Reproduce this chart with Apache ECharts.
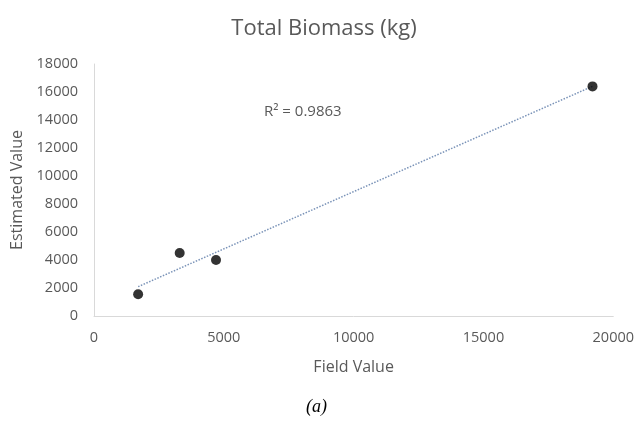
<!DOCTYPE html>
<html>
<head>
<meta charset="utf-8">
<script src="https://cdn.jsdelivr.net/npm/echarts@6/dist/echarts.min.js"></script>
<style>
  html, body { margin: 0; padding: 0; background: #fff; }
  #chart { width: 637px; height: 430px; }
</style>
</head>
<body>
<div id="chart"></div>
<script>
// field value vs estimated value
var fieldValues = [1700, 3300, 4700, 19200]
var estimatedValues = [1550, 4500, 4000, 16400]
var rSquared = '0.9863'

var points = fieldValues.map(function (x, i) {
  return [x, estimatedValues[i]]
})

// linear trendline (least squares), drawn across the data range
function linearFit(xs, ys) {
  var n = xs.length
  var mx = xs.reduce(function (a, b) { return a + b }, 0) / n
  var my = ys.reduce(function (a, b) { return a + b }, 0) / n
  var sxy = 0, sxx = 0
  for (var i = 0; i < n; i++) {
    sxy += (xs[i] - mx) * (ys[i] - my)
    sxx += (xs[i] - mx) * (xs[i] - mx)
  }
  var slope = sxy / sxx
  return { slope: slope, intercept: my - slope * mx }
}
var fit = linearFit(fieldValues, estimatedValues)
var xMin = Math.min.apply(null, fieldValues)
var xMax = Math.max.apply(null, fieldValues)
var trend = [
  [xMin, fit.slope * xMin + fit.intercept],
  [xMax, fit.slope * xMax + fit.intercept]
]

var myChart = echarts.init(document.getElementById('chart'))
var textColor = '#595959'
var fontFamily = 'Open Sans'
// plain numbers, no thousands separator
var plainNumber = function (v) { return String(v) }

var option = {
  backgroundColor: '#fff',
  animation: false,
  title: {
    text: 'Total Biomass (kg)',
    left: 319,
    top: 13,
    textAlign: 'center',
    textStyle: { color: textColor, fontSize: 22, fontWeight: 'normal', fontFamily: fontFamily }
  },
  grid: { left: 94, top: 64, width: 524, height: 252 },
  xAxis: {
    type: 'value',
    min: 0,
    max: 20000,
    interval: 5000,
    name: 'Field Value',
    nameLocation: 'middle',
    nameGap: 43,
    nameTextStyle: { color: textColor, fontSize: 16, fontFamily: fontFamily },
    axisLine: { show: true, lineStyle: { color: '#d9d9d9', width: 1 } },
    axisTick: { show: false },
    splitLine: { show: false },
    axisLabel: { color: textColor, fontSize: 14.5, fontFamily: fontFamily, margin: 14, formatter: plainNumber }
  },
  yAxis: {
    type: 'value',
    min: 0,
    max: 18000,
    interval: 2000,
    name: 'Estimated Value',
    nameLocation: 'middle',
    nameGap: 64,
    nameTextStyle: { color: textColor, fontSize: 16, fontFamily: fontFamily },
    axisLine: { show: true, lineStyle: { color: '#d9d9d9', width: 1 } },
    axisTick: { show: false },
    splitLine: { show: false },
    axisLabel: { color: textColor, fontSize: 14.5, fontFamily: fontFamily, margin: 16, formatter: plainNumber }
  },
  graphic: [
    {
      type: 'text',
      left: 264,
      top: 104,
      style: { text: 'R² = ' + rSquared, fill: textColor, fontSize: 15, fontFamily: fontFamily }
    },
    {
      type: 'text',
      left: 306,
      top: 398,
      style: { text: '(a)', fill: '#000', fontSize: 18, fontStyle: 'italic', fontFamily: 'Liberation Serif' }
    }
  ],
  series: [
    {
      name: 'trend',
      type: 'line',
      data: trend,
      symbol: 'none',
      silent: true,
      lineStyle: { color: '#7a93b8', width: 1.5, type: 'dotted' },
      z: 1
    },
    {
      name: 'points',
      type: 'scatter',
      data: points,
      symbolSize: 10,
      itemStyle: { color: '#000' },
      z: 2
    }
  ]
}

myChart.setOption(option)
</script>
</body>
</html>
